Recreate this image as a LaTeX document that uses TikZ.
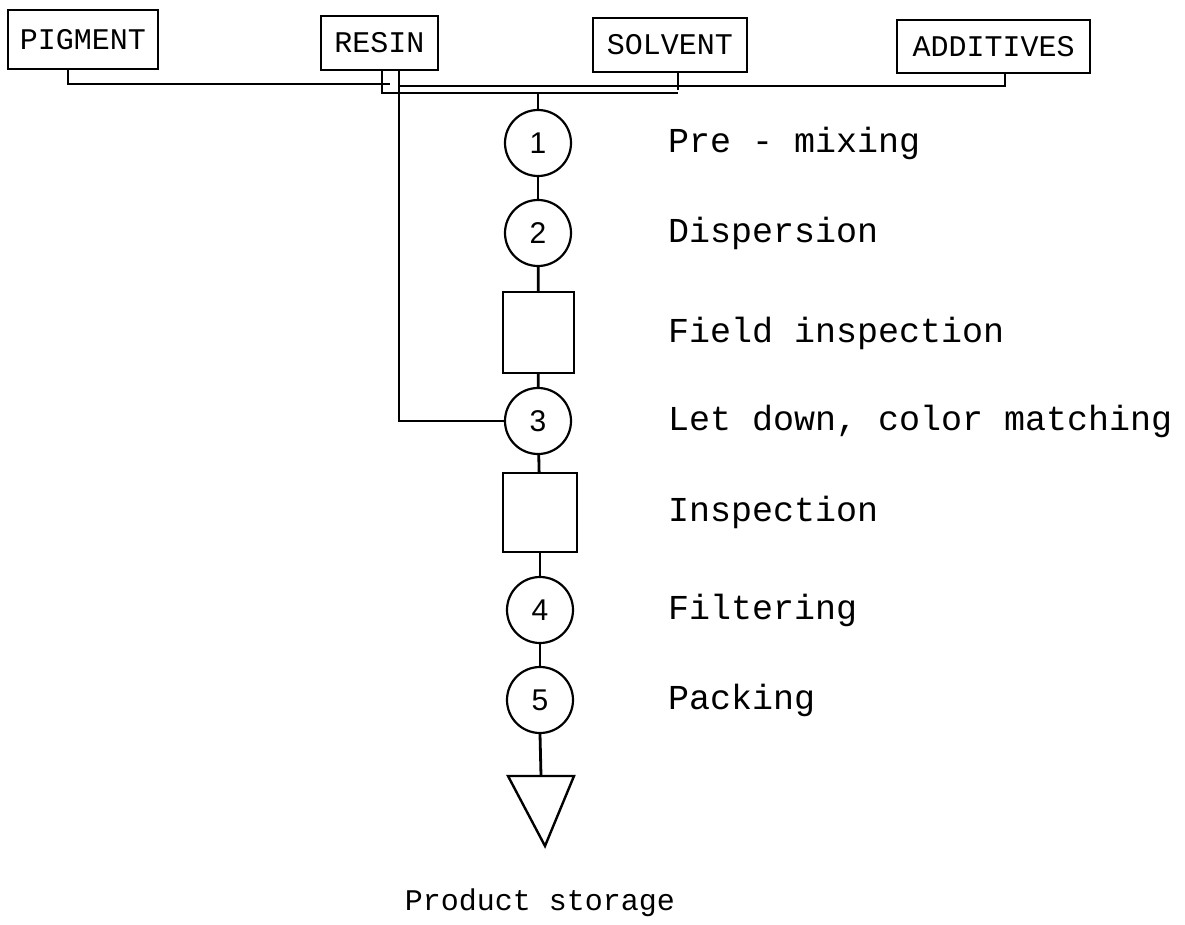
\documentclass[tikz,border=0pt]{standalone}
\usepackage{fontspec}
\setmonofont{Liberation Mono}
\newfontfamily\digitfont{Liberation Sans}
\usetikzlibrary{calc}
\tikzset{
  inbox/.style={draw, line width=2.4pt, rectangle, inner sep=0pt, font=\ttfamily\fontsize{30}{32}\selectfont},
  stepcircle/.style={draw, line width=2.2pt, circle, minimum size=66pt, inner sep=0pt, font=\digitfont\fontsize{30}{32}\selectfont},
  stepsquare/.style={draw, line width=2.4pt, rectangle, inner sep=0pt},
  lab/.style={anchor=west, inner sep=0pt, font=\ttfamily\fontsize{35}{38}\selectfont},
  conn/.style={line width=2.8pt}
}
\begin{document}
\begin{tikzpicture}[x=1pt,y=-1pt]
\useasboundingbox (0,0) rectangle (1185,925);
% supply boxes
\node[inbox, minimum width=150pt, minimum height=59pt] (pig) at (83,39.5) {PIGMENT};
\node[inbox, minimum width=117pt, minimum height=54pt] (res) at (379.5,43) {RESIN};
\node[inbox, minimum width=154pt, minimum height=54pt] (sol) at (670,45) {SOLVENT};
\node[inbox, minimum width=193pt, minimum height=53pt] (add) at (993.5,46.5) {ADDITIVES};
% process column
\node[stepcircle] (c1) at (538,143) {1};
\node[stepcircle] (c2) at (538,233) {2};
\node[stepsquare, minimum width=71pt, minimum height=81pt] (b1) at (538.5,332.5) {};
\node[stepcircle] (c3) at (538,421) {3};
\node[stepsquare, minimum width=74pt, minimum height=79pt] (b2) at (540,512.5) {};
\node[stepcircle] (c4) at (540,610) {4};
\node[stepcircle] (c5) at (540,700) {5};
% storage triangle
\coordinate (tl) at (508,776);
\coordinate (tr) at (574,776);
\coordinate (tb) at (545,846);
\coordinate (tt) at (541,776);
\draw[line width=2.4pt, line join=miter] (tl) -- (tr) -- (tb) -- cycle;
% junctions
\coordinate (pl) at (390,84);
\coordinate (ll) at (382,93);
\coordinate (lr) at (678,93);
\coordinate (ar) at (399,86);
% connectors
\draw[conn] ([xshift=-15pt]pig.south) |- (pl);
\draw[conn] ([xshift=2.5pt]res.south) -- (ll) -- (lr);
\draw[conn] ([xshift=8pt]sol.south) -- ([yshift=3pt]lr);
\draw[conn] ([xshift=11.5pt]add.south) |- (ar);
\draw[conn] ([xshift=19.5pt]res.south) |- (c3.west);
\draw[conn] (c1.north) -- (c1.north |- ll);
\draw[conn] (c1) -- (c2);
\draw[conn] (c2) -- (b1);
\draw[conn] (b1) -- (c3);
\draw[conn] (c3) -- (b2);
\draw[conn] (b2) -- (c4);
\draw[conn] (c4) -- (c5);
\draw[conn] (c5.south) -- (tt);
% labels
\node[lab] (l1) at (668,143) {Pre - mixing};
\node[lab] (l2) at (668,233) {Dispersion};
\node[lab] (l3) at (668,333) {Field inspection};
\node[lab] (l4) at (668,421) {Let down, color matching};
\node[lab] (l5) at (668,512) {Inspection};
\node[lab] (l6) at (668,610) {Filtering};
\node[lab] (l7) at (668,700) {Packing};
\node[inner sep=0pt, font=\ttfamily\fontsize{30}{32}\selectfont] (ps) at (540,903) {Product storage};
\end{tikzpicture}
\end{document}
